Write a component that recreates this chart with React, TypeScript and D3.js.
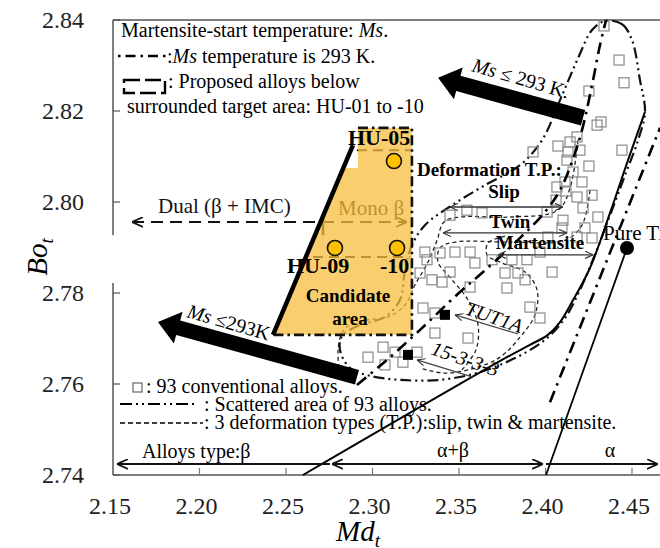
import React from "react"
import * as d3 from "d3"

type Pt = [number, number]

const xTicks = [2.15, 2.2, 2.25, 2.3, 2.35, 2.4, 2.45]
const yTicks = [2.74, 2.76, 2.78, 2.8, 2.82, 2.84]

// 93 conventional alloys, [Md, Bo] (overlapping ones read as one)
const conventionalAlloys: Pt[] = [
  [2.4338, 2.8387], [2.4425, 2.8312], [2.4454, 2.8262], [2.4251, 2.8244],
  [2.4298, 2.8169], [2.4321, 2.8176], [2.4442, 2.8114], [2.4072, 2.8123],
  [2.4142, 2.8132], [2.4182, 2.8143], [2.413, 2.811], [2.3928, 2.811],
  [2.4251, 2.8079], [2.4159, 2.8066], [2.4124, 2.8092], [2.4113, 2.8044],
  [2.4211, 2.8044], [2.4066, 2.8033], [2.4118, 2.8024], [2.4269, 2.8015],
  [2.4182, 2.8011], [2.4217, 2.7987], [2.4303, 2.7967], [2.4101, 2.796],
  [2.4095, 2.7943], [2.4009, 2.7978], [2.3546, 2.7982], [2.3633, 2.7976],
  [2.3448, 2.7971], [2.4269, 2.7921], [2.4182, 2.7923], [2.3303, 2.789],
  [2.339, 2.7888], [2.3477, 2.789], [2.3564, 2.789], [2.3592, 2.7866],
  [2.3691, 2.7873], [2.3448, 2.7846], [2.3766, 2.7844], [2.3841, 2.7844],
  [2.4038, 2.7846], [2.3893, 2.7873], [2.3968, 2.789], [2.3315, 2.7873],
  [2.3275, 2.7844], [2.3344, 2.7829], [2.3402, 2.7824], [2.3564, 2.7813],
  [2.3777, 2.7811], [2.3882, 2.7829], [2.391, 2.7769], [2.3968, 2.7745],
  [2.3292, 2.7767], [2.3361, 2.7756], [2.3361, 2.7712], [2.3552, 2.7701],
  [2.3061, 2.7681], [2.2974, 2.7659], [2.313, 2.767], [2.3072, 2.7642],
  [2.3176, 2.7648], [2.3257, 2.767], [2.4199, 2.8114], [2.4228, 2.7943],
  [2.4061, 2.8004], [2.4014, 2.7923], [2.3806, 2.7873],
]

const proposedNames = ["HU-05", "HU-09", "-10"]
const proposedMd = [2.3124, 2.2783, 2.3142]
const proposedBo = [2.809, 2.7899, 2.7899]

const pureTi: Pt = [2.4471, 2.7899]
const tut1a: Pt = [2.3419, 2.7752]
const ti15333: Pt = [2.3205, 2.7664]

// boundary lines
const solidBoundary: Pt[] = [
  [2.2598, 2.74], [2.3777, 2.7659], [2.391, 2.7686], [2.4014, 2.7708],
  [2.4084, 2.7736], [2.4153, 2.778], [2.4257, 2.7855], [2.4373, 2.7976],
  [2.4477, 2.8092], [2.4575, 2.8198],
]
const alphaBoundary: Pt[] = [[2.4003, 2.74], [2.4471, 2.7899]]
const msRightLine: Pt[] = [[2.4026, 2.756], [2.4662, 2.8163]]
const ms293Line: Pt[] = [
  [2.291, 2.7598], [2.3084, 2.7653], [2.3275, 2.7719], [2.3488, 2.7796],
  [2.3639, 2.7846], [2.3853, 2.7921], [2.3997, 2.7978], [2.4084, 2.8026],
  [2.4153, 2.8088], [2.4211, 2.8158], [2.4269, 2.8257], [2.4315, 2.8345],
  [2.435, 2.84],
]
const scatteredArea: Pt[] = [
  [2.4344, 2.8398], [2.4442, 2.8391], [2.45, 2.8356], [2.4546, 2.8268],
  [2.4575, 2.8198], [2.4535, 2.8136], [2.446, 2.8059], [2.4373, 2.7971],
  [2.4286, 2.7884], [2.4199, 2.7807], [2.4113, 2.7745], [2.3997, 2.7697],
  [2.3824, 2.7657], [2.3621, 2.7626], [2.339, 2.7609], [2.3159, 2.7609],
  [2.2986, 2.7618], [2.287, 2.7635], [2.2812, 2.7675], [2.2824, 2.7705],
  [2.2928, 2.773], [2.3072, 2.7747], [2.3159, 2.7785], [2.3188, 2.7851],
  [2.3228, 2.7905], [2.3303, 2.7949], [2.346, 2.7993], [2.365, 2.8037],
  [2.3853, 2.8081], [2.398, 2.8136], [2.4084, 2.8224], [2.4188, 2.8316],
  [2.4269, 2.8378],
]
const slipArea: Pt[] = [
  [2.4188, 2.8136], [2.4142, 2.8031], [2.4072, 2.7982], [2.3795, 2.7967],
  [2.3506, 2.7967], [2.3413, 2.7956], [2.3373, 2.7916], [2.3321, 2.7868],
  [2.3246, 2.7818], [2.3188, 2.7774], [2.3101, 2.7749], [2.2939, 2.7738],
  [2.2835, 2.7719], [2.2801, 2.7675], [2.2812, 2.762],
]
const twinArea: Pt[] = [
  [2.4257, 2.8026], [2.4211, 2.7949], [2.4113, 2.7916], [2.3795, 2.7912],
  [2.3477, 2.7912], [2.339, 2.7899], [2.3379, 2.7868], [2.346, 2.7829],
  [2.3552, 2.7785], [2.361, 2.773], [2.3598, 2.7675], [2.3517, 2.7631],
]
const martensiteArea: Pt[] = [
  [2.3766, 2.7925], [2.3668, 2.791], [2.3662, 2.7884], [2.3749, 2.7866],
  [2.3882, 2.7846], [2.3951, 2.7807], [2.3939, 2.7752], [2.3853, 2.7703],
  [2.3737, 2.7659], [2.3592, 2.7635], [2.3419, 2.7624], [2.3275, 2.7635],
]

// candidate (target) area
const candidateArea: Pt[] = [
  [2.2425, 2.7708], [2.2829, 2.8075], [2.2916, 2.8075], [2.2916, 2.8163],
  [2.3228, 2.8163], [2.3228, 2.7708],
]
const candidateEdge: Pt[] = [[2.2425, 2.7708], [2.2887, 2.8125]]
const candidateBorder: Pt[] = [[2.2916, 2.8163], [2.3228, 2.8163], [2.3228, 2.7708], [2.2425, 2.7708]]
const phaseArrow: Pt[] = [[2.161, 2.7956], [2.3199, 2.7956]]
const upperDash: Pt[] = [[2.291, 2.8114], [2.3217, 2.8114]]
const lowerDash: Pt[] = [[2.2656, 2.7879], [2.3217, 2.7879]]

// deformation type spans
const deformNames = ["Slip", "Twin", "Martensite"]
const deformFrom = [2.3448, 2.3408, 2.3725]
const deformTo = [2.4101, 2.4124, 2.4275]
const deformBo = [2.7989, 2.7932, 2.7884]

// alloy type spans along the Md axis
const typeBo = 2.7424
const betaSpan: Pt = [2.2754, 2.1523]
const alphaBetaSpan: Pt = [2.2766, 2.3986]
const alphaSpan: Pt = [2.4003, 2.465]

// Ms <= 293 K arrows: [tail, tip]
const msArrows: Pt[][] = [
  [[2.4217, 2.8185], [2.3379, 2.8273]],
  [[2.291, 2.7615], [2.176, 2.7736]],
]

const serif = "'Liberation Serif', 'Times New Roman', serif"

function fatArrow(a: Pt, b: Pt, shaft: number, head: number, headLen: number) {
  const dx = b[0] - a[0], dy = b[1] - a[1]
  const len = Math.hypot(dx, dy)
  const ux = dx / len, uy = dy / len
  const px = -uy, py = ux
  const bx = b[0] - ux * headLen, by = b[1] - uy * headLen
  const pts = [
    [a[0] + px * shaft / 2, a[1] + py * shaft / 2],
    [bx + px * shaft / 2, by + py * shaft / 2],
    [bx + px * head / 2, by + py * head / 2],
    [b[0], b[1]],
    [bx - px * head / 2, by - py * head / 2],
    [bx - px * shaft / 2, by - py * shaft / 2],
    [a[0] - px * shaft / 2, a[1] - py * shaft / 2],
  ]
  return pts.map(p => p.join(",")).join(" ")
}

export default function App() {
  const x = d3.scaleLinear().domain([2.15, 2.5]).range([113, 718.5])
  const y = d3.scaleLinear().domain([2.74, 2.84]).range([475, 20])
  const P = (d: Pt): Pt => [x(d[0]), y(d[1])]

  const smooth = d3.line<Pt>().x(d => x(d[0])).y(d => y(d[1])).curve(d3.curveCatmullRom.alpha(0.5))
  const loop = d3.line<Pt>().x(d => x(d[0])).y(d => y(d[1])).curve(d3.curveCatmullRomClosed.alpha(0.5))
  const straight = d3.line<Pt>().x(d => x(d[0])).y(d => y(d[1]))

  return (
    <svg width={660} height={548} style={{ position: "absolute", left: 0, top: 0, background: "#fff" }}
      fontFamily={serif}>
      <defs>
        <marker id="head" viewBox="0 0 10 10" refX="10" refY="5" markerWidth="11" markerHeight="11"
          markerUnits="userSpaceOnUse" orient="auto-start-reverse">
          <path d="M0,0.5 L10,5 L0,9.5" fill="none" stroke="#111" strokeWidth="1.6" />
        </marker>
        <marker id="small" viewBox="0 0 10 10" refX="10" refY="5" markerWidth="8" markerHeight="8"
          markerUnits="userSpaceOnUse" orient="auto-start-reverse">
          <path d="M0,0.5 L10,5 L0,9.5" fill="none" stroke="#333" strokeWidth="1.4" />
        </marker>
      </defs>

      {/* frame and axes */}
      <line x1={x(2.15)} x2={x(2.5)} y1={y(2.84)} y2={y(2.84)} stroke="#555" strokeWidth={1.5} />
      <line x1={x(2.15)} x2={x(2.5)} y1={y(2.74)} y2={y(2.74)} stroke="#555" strokeWidth={1.5} />
      <line x1={x(2.15)} x2={x(2.15)} y1={y(2.84)} y2={y(2.7927)} stroke="#555" strokeWidth={1.5} />
      <line x1={x(2.15)} x2={x(2.15)} y1={y(2.7822)} y2={y(2.74)} stroke="#555" strokeWidth={1.5} />
      {yTicks.map(t => (
        <g key={"y" + t}>
          <line x1={x(2.15)} x2={x(2.15) + 7} y1={y(t)} y2={y(t)} stroke="#555" strokeWidth={1.2} />
          <text x={84} y={y(t) + 8} textAnchor="end" fontSize={24} fill="#222">{t.toFixed(2)}</text>
        </g>
      ))}
      {xTicks.map(t => (
        <g key={"x" + t}>
          <line x1={x(t)} x2={x(t)} y1={y(2.74)} y2={y(2.74) - 7} stroke="#777" strokeWidth={1.2} />
          <text x={x(t) - 3} y={514} textAnchor="middle" fontSize={24} fill="#222">{t.toFixed(2)}</text>
        </g>
      ))}
      <text transform="translate(47,257) rotate(-90)" textAnchor="middle" fontSize={29} fontStyle="italic">
        Bo<tspan fontSize={19} dy={6}>t</tspan>
      </text>
      <text x={336} y={541} fontSize={29} fontStyle="italic">
        Md<tspan fontSize={19} dy={6}>t</tspan>
      </text>

      {/* lines that sit under the translucent candidate area */}
      <path d={straight(phaseArrow) || ""} fill="none" stroke="#111" strokeWidth={2}
        strokeDasharray="12,7" markerStart="url(#head)" markerEnd="url(#head)" />
      <path d={straight(upperDash) || ""} fill="none" stroke="#111" strokeWidth={2} strokeDasharray="10,6" />
      <path d={straight(lowerDash) || ""} fill="none" stroke="#111" strokeWidth={2} strokeDasharray="10,6" />
      <line x1={x(2.2714)} x2={x(2.2714)} y1={y(2.7971)} y2={y(2.7927)} stroke="#111" strokeWidth={2.5} />
      <text x={338} y={215} fontSize={21} fill="#111">Mono β</text>
      <text x={158} y={213} fontSize={21} fill="#111">Dual (β + IMC)</text>

      {/* deformation type regions */}
      {[slipArea, twinArea, martensiteArea].map((a, i) => (
        <path key={"d" + i} d={smooth(a) || ""} fill="none" stroke="#222" strokeWidth={1.3} strokeDasharray="4,3" />
      ))}
      {/* scattered area of 93 alloys */}
      <path d={loop(scatteredArea) || ""} fill="none" stroke="#111" strokeWidth={2.2} strokeDasharray="11,4,2,4,2,4" />

      <polygon points={candidateArea.map(d => P(d).join(",")).join(" ")} fill="#F5BE3E" fillOpacity={0.75} />
      <path d={straight(candidateBorder) || ""} fill="none" stroke="#111" strokeWidth={2.6} strokeDasharray="10,4,2.5,4" />
      <path d={straight(candidateEdge) || ""} fill="none" stroke="#000" strokeWidth={4.5} />

      {/* conventional alloys */}
      {conventionalAlloys.map((d, i) => (
        <rect key={"s" + i} x={x(d[0]) - 5} y={y(d[1]) - 5} width={10} height={10}
          fill="none" stroke="#8a8a8a" strokeWidth={1.2} />
      ))}

      {/* phase boundaries and Ms lines */}
      <path d={smooth(solidBoundary) || ""} fill="none" stroke="#000" strokeWidth={2} />
      <path d={straight(alphaBoundary) || ""} fill="none" stroke="#000" strokeWidth={1.8} />
      <path d={straight(msRightLine) || ""} fill="none" stroke="#000" strokeWidth={2.6} strokeDasharray="12,6,2.5,6" />
      <path d={smooth(ms293Line) || ""} fill="none" stroke="#000" strokeWidth={2.6} strokeDasharray="12,6,2.5,6" />

      {/* deformation spans */}
      {deformNames.map((n, i) => (
        <g key={n}>
          <line x1={x(deformFrom[i])} x2={x(deformTo[i])} y1={y(deformBo[i])} y2={y(deformBo[i])}
            stroke="#333" strokeWidth={1.3} markerStart="url(#small)" markerEnd="url(#small)" />
        </g>
      ))}
      <text x={417} y={176} fontSize={19} fontWeight="bold">Deformation T.P.:</text>
      <text x={504} y={198} fontSize={19} fontWeight="bold" textAnchor="middle">Slip</text>
      <text x={510} y={228} fontSize={19} fontWeight="bold" textAnchor="middle">Twin</text>
      <text x={540} y={249} fontSize={19} fontWeight="bold" textAnchor="middle">Martensite</text>

      {/* proposed alloys */}
      {proposedNames.map((n, i) => (
        <circle key={n} cx={x(proposedMd[i])} cy={y(proposedBo[i])} r={7.5} fill="#FFC000" stroke="#111" strokeWidth={1.6} />
      ))}
      <text x={348} y={145} fontSize={22} fontWeight="bold">HU-05</text>
      <text x={287} y={273} fontSize={22} fontWeight="bold">HU-09</text>
      <text x={380} y={273} fontSize={22} fontWeight="bold">-10</text>
      <text x={348} y={302} fontSize={19} fontWeight="bold" textAnchor="middle">Candidate</text>
      <text x={350} y={325} fontSize={19} fontWeight="bold" textAnchor="middle">area</text>

      {/* named alloys */}
      <circle cx={x(pureTi[0])} cy={y(pureTi[1])} r={7} fill="#000" />
      <text x={603} y={240} fontSize={21}>Pure Ti</text>
      {[tut1a, ti15333].map((d, i) => (
        <rect key={"n" + i} x={x(d[0]) - 5} y={y(d[1]) - 5} width={10} height={10} fill="#000" />
      ))}
      <line x1={x(2.3841)} y1={y(2.771)} x2={x(2.3477)} y2={y(2.7752)} stroke="#444" strokeWidth={1.2} markerEnd="url(#small)" />
      <line x1={x(2.3581)} y1={y(2.7615)} x2={x(2.3257)} y2={y(2.7653)} stroke="#444" strokeWidth={1.2} markerEnd="url(#small)" />
      <text transform="translate(464,314) rotate(19)" fontSize={20} fontStyle="italic">TUT1A</text>
      <text transform="translate(430,354) rotate(19)" fontSize={20} fontStyle="italic">15-3-3-3</text>

      {/* Ms <= 293 K arrows */}
      {msArrows.map((a, i) => (
        <polygon key={"a" + i} points={fatArrow(P(a[0]), P(a[1]), i === 0 ? 16 : 15, 33, 21)} fill="#000" />
      ))}
      <text transform="translate(471,71) rotate(16)" fontSize={20}>
        <tspan fontStyle="italic">Ms</tspan> ≤ 293 K.
      </text>
      <text transform="translate(186,317) rotate(16)" fontSize={20}>
        <tspan fontStyle="italic">Ms</tspan> ≤293K
      </text>

      {/* alloy type spans */}
      <line x1={x(betaSpan[0])} x2={x(betaSpan[1])} y1={y(typeBo)} y2={y(typeBo)} stroke="#111" strokeWidth={2} markerEnd="url(#head)" />
      <line x1={x(alphaBetaSpan[0])} x2={x(alphaBetaSpan[1])} y1={y(typeBo)} y2={y(typeBo)} stroke="#111" strokeWidth={2}
        markerStart="url(#head)" markerEnd="url(#head)" />
      <line x1={x(alphaSpan[0])} x2={x(alphaSpan[1])} y1={y(typeBo)} y2={y(typeBo)} stroke="#111" strokeWidth={2} markerEnd="url(#head)" />
      <text x={142} y={458} fontSize={20}>Alloys type:β</text>
      <text x={453} y={457} fontSize={20} textAnchor="middle">α+β</text>
      <text x={610} y={457} fontSize={20} textAnchor="middle">α</text>

      {/* upper legend */}
      <text x={121} y={37} fontSize={20}>Martensite-start temperature: <tspan fontStyle="italic">Ms</tspan>.</text>
      <line x1={118} x2={166} y1={56} y2={56} stroke="#000" strokeWidth={2.4} strokeDasharray="2.5,5,10,5" />
      <text x={167} y={63} fontSize={20}>:<tspan fontStyle="italic">Ms</tspan> temperature is 293 K.</text>
      <rect x={124} y={80} width={41} height={13} fill="none" stroke="#000" strokeWidth={2.4} strokeDasharray="16,5" />
      <text x={168} y={88} fontSize={20}>: Proposed alloys below</text>
      <text x={127} y={113} fontSize={20}>surrounded target area: HU-01 to -10</text>

      {/* lower legend */}
      <rect x={133} y={383} width={9} height={9} fill="none" stroke="#666" strokeWidth={1.2} />
      <text x={146} y={393} fontSize={20}>: 93 conventional alloys.</text>
      <line x1={120} x2={198} y1={404} y2={404} stroke="#000" strokeWidth={2.2} strokeDasharray="12,4,2,4,2,4" />
      <text x={204} y={411} fontSize={20}>: Scattered area of 93 alloys.</text>
      <line x1={120} x2={203} y1={423} y2={423} stroke="#000" strokeWidth={1.3} strokeDasharray="5,3" />
      <text x={204} y={429} fontSize={20}>: 3 deformation types (T.P.):slip, twin &amp; martensite.</text>
    </svg>
  )
}
